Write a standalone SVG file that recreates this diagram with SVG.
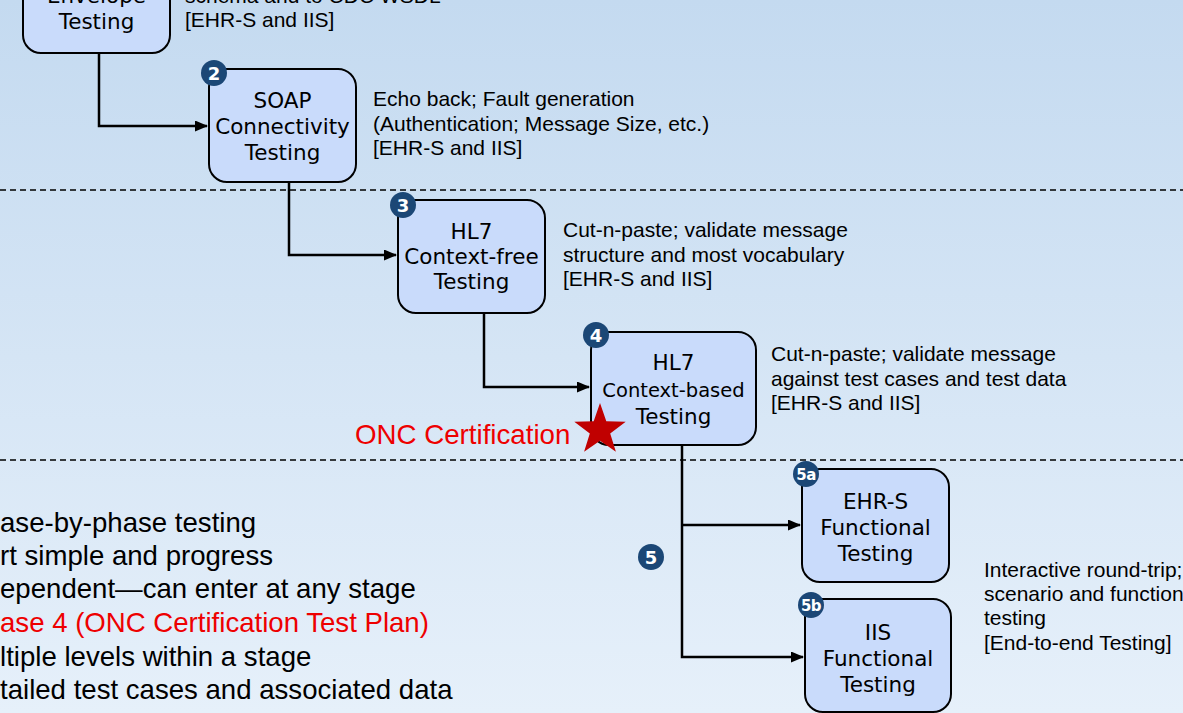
<svg xmlns="http://www.w3.org/2000/svg" width="1183" height="713" viewBox="0 0 1183 713">
<defs>
<linearGradient id="bg" x1="0" y1="0" x2="0" y2="1">
<stop offset="0" stop-color="#c4daf0"/>
<stop offset="1" stop-color="#e6f0fa"/>
</linearGradient>
<marker id="arr" markerWidth="13" markerHeight="11" refX="12" refY="5.5" orient="auto" markerUnits="userSpaceOnUse">
<path d="M0,0 L13,5.5 L0,11 Z" fill="#000"/>
</marker>
<style>
.node{fill:#c9dbfb;stroke:#000;stroke-width:2}
.nt{font-family:"DejaVu Sans",Verdana,sans-serif;font-size:21.5px;fill:#000;text-anchor:middle}
.nts{font-size:19.5px}
.ann{font-family:"Liberation Sans",Arial,sans-serif;font-size:21px;fill:#000}
.bul{font-family:"Liberation Sans",Arial,sans-serif;font-size:27.6px;fill:#000}
.badge{fill:#1b4776}
.bt{font-family:"DejaVu Sans",Verdana,sans-serif;font-weight:bold;font-size:18px;fill:#fff;text-anchor:middle}
.bts{font-size:15px;letter-spacing:-0.5px}
.conn{fill:none;stroke:#000;stroke-width:2.5}
.dash{stroke:#000;stroke-width:1.5;stroke-dasharray:6 4}
</style>
</defs>
<rect x="0" y="0" width="1183" height="713" fill="url(#bg)"/>
<line class="dash" x1="0" y1="190" x2="1183" y2="190"/>
<line class="dash" x1="0" y1="460" x2="1183" y2="460"/>

<g id="connectors">
<path class="conn" d="M99,53 V126 H207" marker-end="url(#arr)"/>
<path class="conn" d="M289,182 V255 H396" marker-end="url(#arr)"/>
<path class="conn" d="M484,313 V387 H589" marker-end="url(#arr)"/>
<path class="conn" d="M682,445 V657 H803" marker-end="url(#arr)"/>
<path class="conn" d="M682,525 H800" marker-end="url(#arr)"/>
</g>

<g id="node1">
<rect class="node" x="23" y="-60" width="147" height="113" rx="18"/>
<text class="nt" x="96.5" y="3">Envelope</text>
<text class="nt" x="96.5" y="29">Testing</text>
</g>
<g id="note1">
<text class="ann" x="185" y="3">schema and to CDC WSDL</text>
<text class="ann" x="185" y="27">[EHR-S and IIS]</text>
</g>

<g id="node2">
<rect class="node" x="209" y="69" width="147" height="113" rx="18"/>
<text class="nt" x="282.5" y="108">SOAP</text>
<text class="nt" x="282.5" y="134">Connectivity</text>
<text class="nt" x="282.5" y="160">Testing</text>
<circle class="badge" cx="214" cy="73" r="13"/>
<text class="bt" x="214" y="79.5">2</text>
</g>
<g id="note2">
<text class="ann" x="373" y="106">Echo back; Fault generation</text>
<text class="ann" x="373" y="131">(Authentication; Message Size, etc.)</text>
<text class="ann" x="373" y="155">[EHR-S and IIS]</text>
</g>

<g id="node3">
<rect class="node" x="398" y="200" width="147" height="113" rx="18"/>
<text class="nt" x="471.5" y="239">HL7</text>
<text class="nt" x="471.5" y="264">Context-free</text>
<text class="nt" x="471.5" y="289">Testing</text>
<circle class="badge" cx="403" cy="205" r="13"/>
<text class="bt" x="403" y="211.5">3</text>
</g>
<g id="note3">
<text class="ann" x="563" y="237">Cut-n-paste; validate message</text>
<text class="ann" x="563" y="262">structure and most vocabulary</text>
<text class="ann" x="563" y="286">[EHR-S and IIS]</text>
</g>

<g id="node4">
<rect class="node" x="591" y="332" width="165" height="113" rx="18"/>
<text class="nt" x="673.5" y="370">HL7</text>
<text class="nt nts" x="673.5" y="397">Context-based</text>
<text class="nt" x="673.5" y="424">Testing</text>
<circle class="badge" cx="596" cy="335" r="13"/>
<text class="bt" x="596" y="341.5">4</text>
</g>
<g id="note4">
<text class="ann" x="771" y="361">Cut-n-paste; validate message</text>
<text class="ann" x="771" y="386">against test cases and test data</text>
<text class="ann" x="771" y="410">[EHR-S and IIS]</text>
</g>

<g id="onc">
<text x="355" y="444" font-family="Liberation Sans, Arial, sans-serif" font-size="27.7" fill="#ee0000">ONC Certification</text>
<polygon fill="#c00000" points="600,403 606.3,421.3 625.7,421.7 610.2,433.4 615.9,451.8 600,440.8 584.1,451.8 589.8,433.4 574.3,421.7 593.7,421.3"/>
</g>

<g id="badge5">
<circle class="badge" cx="651" cy="557" r="13"/>
<text class="bt" x="651" y="563.5">5</text>
</g>

<g id="node5a">
<rect class="node" x="802" y="469" width="147" height="113" rx="18"/>
<text class="nt" x="875.5" y="509">EHR-S</text>
<text class="nt" x="875.5" y="535">Functional</text>
<text class="nt" x="875.5" y="561">Testing</text>
<circle class="badge" cx="806" cy="474" r="13"/>
<text class="bt bts" x="806" y="479.5">5a</text>
</g>

<g id="node5b">
<rect class="node" x="805" y="599" width="146" height="113" rx="18"/>
<text class="nt" x="878" y="640">IIS</text>
<text class="nt" x="878" y="666">Functional</text>
<text class="nt" x="878" y="692">Testing</text>
<circle class="badge" cx="811" cy="605" r="13"/>
<text class="bt bts" x="811" y="610.5">5b</text>
</g>

<g id="note5">
<text class="ann" x="984" y="577">Interactive round-trip;</text>
<text class="ann" x="984" y="601">scenario and function</text>
<text class="ann" x="984" y="625">testing</text>
<text class="ann" x="984" y="650">[End-to-end Testing]</text>
</g>

<g id="bullets">
<text class="bul" x="0" y="532">ase-by-phase testing</text>
<text class="bul" x="0" y="565">rt simple and progress</text>
<text class="bul" x="0" y="598">ependent—can enter at any stage</text>
<text class="bul" x="0" y="632" style="fill:#ee0000">ase 4 (ONC Certification Test Plan)</text>
<text class="bul" x="0" y="666">ltiple levels within a stage</text>
<text class="bul" x="0" y="699">tailed test cases and associated data</text>
</g>
</svg>
